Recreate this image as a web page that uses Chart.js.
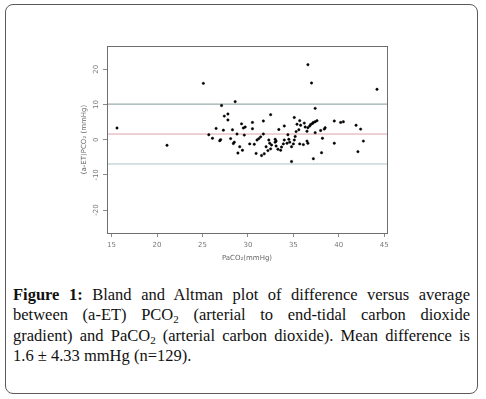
<!DOCTYPE html>
<html lang="en">
<head>
  <meta charset="UTF-8">
  <script src="https://cdn.jsdelivr.net/npm/chart.js"></script>
  <title>Bland and Altman plot</title>
  <style>
    body { margin: 0; background: #fff; }
    .frame { position: absolute; left: 5px; top: 4px; width: 473px; height: 390px; box-sizing: border-box; border: 1px solid #5a5a5a; border-radius: 8px; }
    #chart { position: absolute; left: 0; top: 0; }
    .caption { position: absolute; left: 13px; top: 285px; width: 457px; font-family: "Liberation Serif", "DejaVu Serif", serif; font-size: 16.5px; line-height: 20.3px; color: #111; }
    .caption .j { text-align: justify; text-align-last: justify; }
    .caption sub { font-size: 11px; line-height: 0; vertical-align: -3px; }
  </style>
</head>
<body>
  <div class="frame"></div>
  <canvas id="chart" width="486" height="270"></canvas>
  <div class="caption">
    <div class="j"><b>Figure 1:</b> Bland and Altman plot of difference versus average</div>
    <div class="j">between (a-ET) PCO<sub>2</sub> (arterial to end-tidal carbon dioxide</div>
    <div class="j">gradient) and PaCO<sub>2</sub> (arterial carbon dioxide). Mean difference is</div>
    <div>1.6 ± 4.33 mmHg (n=129).</div>
  </div>
  <script>
    // PaCO2 (x) and (a-ET)PCO2 difference (y)
    const paco2 = [15.6, 21.1, 25.1, 36.6, 37.0, 44.2, 28.6, 27.1, 37.4, 27.8, 27.4, 32.5,
      26.5, 27.3, 27.8, 28.3, 29.3, 29.5, 29.7, 30.5, 30.5, 31.7, 33.4, 34.0, 35.1, 35.4,
      35.7, 35.6, 35.8, 36.2, 36.3, 36.5, 36.6, 36.8, 36.9, 37.1, 37.2, 37.4, 37.6, 38.0,
      38.4, 38.5, 39.5, 40.2, 40.5, 41.9, 42.4, 25.7, 26.1, 27.0, 28.1, 28.8, 29.6, 31.0,
      31.2, 31.4, 31.7, 32.3, 33.0, 34.0, 34.4, 34.5, 35.1, 35.2, 35.3, 37.4, 38.2, 42.7,
      28.4, 28.5, 29.1, 29.4, 28.9, 30.2, 30.7, 30.9, 31.5, 31.8, 32.0, 32.6, 33.0, 33.1,
      33.3, 33.6, 33.7, 33.9, 34.6, 34.8, 35.0, 35.7, 36.1, 36.6, 34.8, 37.2, 38.1, 39.5,
      42.1, 26.9, 32.2, 32.5, 34.3, 36.5, 33.1, 32.4];
    const diff = [3.3, -1.6, 16.0, 21.3, 16.1, 14.3, 10.8, 9.7, 8.9, 7.3, 6.7, 7.1,
      3.2, 2.7, 5.6, 2.8, 4.5, 3.3, 3.6, 4.9, 3.1, 5.3, 2.9, 3.9, 6.3, 4.4,
      5.4, 2.8, 4.1, 4.7, 3.6, 2.4, 3.4, 3.9, 4.3, 4.6, 4.9, 5.1, 5.4, 2.6,
      3.0, 3.4, 5.3, 4.9, 5.1, 4.1, 3.0, 1.4, 0.4, 0.0, 0.3, 1.6, 1.3, -0.1,
      0.3, 0.8, 1.6, -0.1, 0.1, -0.1, 1.4, 0.1, -0.1, 0.9, 2.3, 2.0, 0.4, -0.4,
      -1.1, -0.7, -2.0, -3.0, -3.8, -1.2, -1.3, -3.9, -4.5, -4.0, -2.0, -1.5, -0.7, -1.8,
      -2.7, -3.0, -2.1, -1.2, -0.7, -2.0, -1.2, -1.2, -1.4, -1.0, -6.2, -5.4, -3.7, -1.0,
      -3.4, -0.3, -3.1, -2.6, -1.0, -0.4, -0.4, -1.0];

    // upper limit, mean difference, lower limit
    const limitValues = [10.1, 1.6, -6.9];
    const limitColors = ['#7f9999', '#dba2a9', '#abc3ca'];

    const xTicks = [15, 20, 25, 30, 35, 40, 45];
    const yTicks = [-20, -10, 0, 10, 20];
    const xRange = [14.5, 45.3];
    const yRange = [-26.5, 26.6];

    const tickFont = { family: 'DejaVu Sans', size: 7 };

    const points = paco2.map((x, i) => ({ x: x, y: diff[i] }));

    const datasets = [{
      type: 'scatter',
      data: points,
      pointRadius: 1.2,
      borderWidth: 0.5,
      backgroundColor: '#000',
      borderColor: '#000'
    }];
    limitValues.forEach((v, i) => {
      datasets.push({
        type: 'line',
        data: [{ x: xRange[0], y: v }, { x: xRange[1], y: v }],
        borderColor: limitColors[i],
        borderWidth: 1,
        pointRadius: 0
      });
    });

    const boxPlugin = {
      id: 'box',
      afterDraw(chart) {
        const a = chart.chartArea;
        const ctx = chart.ctx;
        ctx.save();
        ctx.strokeStyle = '#6e6e6e';
        ctx.lineWidth = 1;
        ctx.strokeRect(Math.round(a.left) + 0.5, Math.round(a.top) + 0.5,
          Math.round(a.right - a.left), Math.round(a.bottom - a.top));
        ctx.restore();
      }
    };

    new Chart(document.getElementById('chart').getContext('2d'), {
      data: { datasets: datasets },
      plugins: [boxPlugin],
      options: {
        responsive: false,
        animation: false,
        layout: { padding: { top: 46, right: 99, left: 0, bottom: 0 } },
        plugins: { legend: { display: false }, tooltip: { enabled: false } },
        scales: {
          x: {
            type: 'linear',
            min: xRange[0],
            max: xRange[1],
            afterBuildTicks: s => { s.ticks = xTicks.map(v => ({ value: v })); },
            afterFit: s => { s.height = 37; },
            grid: { drawOnChartArea: false, drawTicks: true, tickLength: 4, color: '#8a8a8a' },
            border: { display: false },
            ticks: { padding: 4, color: '#777', font: tickFont, maxRotation: 0, autoSkip: false },
            title: { display: true, text: 'PaCO₂(mmHg)', color: '#666', font: tickFont, padding: { top: 0, bottom: 8 } }
          },
          y: {
            type: 'linear',
            min: yRange[0],
            max: yRange[1],
            afterBuildTicks: s => { s.ticks = yTicks.map(v => ({ value: v })); },
            afterFit: s => { s.width = 107; },
            grid: { drawOnChartArea: false, drawTicks: true, tickLength: 4, color: '#8a8a8a' },
            border: { display: false },
            ticks: { padding: 1, color: '#777', font: tickFont, minRotation: 90, maxRotation: 90, crossAlign: 'center', autoSkip: false },
            title: { display: true, text: '(a-ET)PCO₂ (mmHg)', color: '#666', font: tickFont, padding: { top: 80, bottom: 0 } }
          }
        }
      }
    });
  </script>
</body>
</html>
